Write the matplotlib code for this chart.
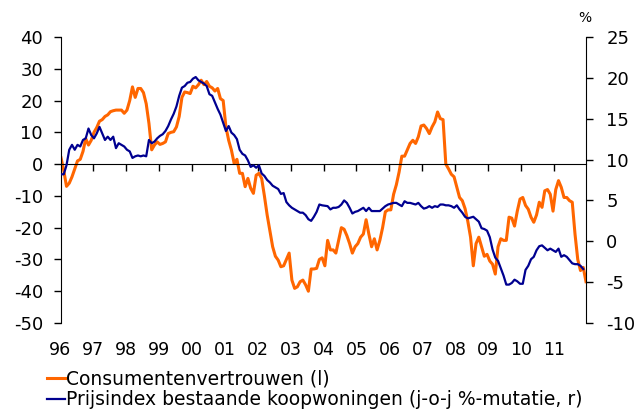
import numpy as np
import matplotlib
matplotlib.use("Agg")
import matplotlib.pyplot as plt

# consumentenvertrouwen, maandelijks jan 1996 - dec 2011 (linker as)
consumer_confidence = [
    2, -2, -7, -6, -4, -1.5, 1, 1.5, 4, 8, 6, 7.5,                          # 1996
    10, 11.5, 13.5, 14, 15, 15.5, 16.5, 16.8, 17, 17, 17, 16,               # 1997
    17, 20, 24.3, 21, 23.8, 23.8, 22.5, 19, 12.8, 4.5, 6, 7,                # 1998
    6.2, 6.5, 7, 9.6, 10, 10.2, 11.7, 15, 21, 22.7, 22.5, 22.2,             # 1999
    24.5, 24, 25, 26.4, 25, 26, 24.5, 24, 23, 23.8, 20.6, 20,               # 2000
    11.7, 7.5, 4.4, 0.2, 1.5, -2.9, -2.9, -7.1, -4.5, -7.6, -9.2, -3.5,     # 2001
    -2.9, -4.5, -10, -16, -21, -26, -29, -30.2, -32.3, -32, -30, -28,       # 2002
    -36.5, -39.1, -38.6, -37, -36.5, -38, -40, -33, -33, -32.8, -30, -29.5, # 2003
    -32, -24, -27, -27, -28, -24, -20, -20.5, -22.5, -25, -28, -26,         # 2004
    -25, -23, -22, -17.5, -22, -26, -23.5, -27, -24, -20, -15, -14.4,       # 2005
    -14.4, -9.5, -6.5, -2.5, 2.5, 2.5, 4.5, 6.5, 7.5, 6.5, 8.6, 12,         # 2006
    12.3, 11.2, 9.6, 11.7, 13.3, 16.4, 14.3, 14, 0, -1.5, -3.2, -4,         # 2007
    -7.3, -10.5, -11.5, -14, -18, -23, -32, -25, -23, -26, -29, -28.4,      # 2008
    -30.5, -31.5, -34.6, -26, -23.5, -24, -24, -16.7, -17, -19.5, -14.8, -11,  # 2009
    -10.5, -13, -14.2, -16.7, -18.3, -16, -12, -13.6, -8.4, -8, -9.5, -14.8,   # 2010
    -8, -5.2, -7.3, -10.5, -10.5, -11.5, -12, -22, -30, -33.5, -32.5, -37,     # 2011
]

# prijsindex bestaande koopwoningen, j-o-j %, jan 1996 - nov 2011 (rechter as)
house_price_index = [
    8.2, 8.2, 9.3, 11.2, 11.8, 11.2, 11.8, 11.6, 12.4, 12.6, 13.8, 13,      # 1996
    12.6, 13.2, 14, 13.2, 12.4, 12.8, 12.4, 12.8, 11.4, 12, 11.8, 11.6,     # 1997
    11.2, 11, 10.2, 10.4, 10.5, 10.4, 10.5, 10.4, 12.4, 12, 12.2, 12.6,     # 1998
    12.9, 13.1, 13.5, 14.1, 14.9, 15.6, 16.5, 17.8, 18.8, 19, 19.4, 19.5,   # 1999
    19.9, 20.1, 19.7, 19.5, 19.3, 19, 18, 17.8, 17, 16.2, 15.5, 14.5,       # 2000
    13.5, 14.1, 13.3, 13, 12.5, 11.2, 10.7, 10.5, 9.9, 9.1, 9.3, 9,         # 2001
    9.3, 8.3, 8, 7.5, 7.2, 6.8, 6.6, 6.4, 5.8, 5.9, 4.8, 4.4,               # 2002
    4.1, 3.9, 3.7, 3.5, 3.5, 3.2, 2.7, 2.5, 3, 3.6, 4.5, 4.4,               # 2003
    4.35, 4.3, 3.9, 4.1, 4.1, 4.2, 4.5, 5.0, 4.7, 4.1, 3.4, 3.6,            # 2004
    3.7, 3.9, 4.1, 3.7, 4.1, 3.7, 3.7, 3.7, 3.7, 4.0, 4.3, 4.5,             # 2005
    4.6, 4.7, 4.7, 4.5, 4.3, 4.9, 4.7, 4.7, 4.6, 4.5, 4.7, 4.3,             # 2006
    4.0, 4.1, 4.3, 4.1, 4.3, 4.2, 4.5, 4.5, 4.4, 4.4, 4.3, 4.1,             # 2007
    4.4, 3.9, 3.5, 3.0, 2.8, 2.9, 3.0, 2.7, 2.4, 1.6, 1.5, 1.3,             # 2008
    0.5, -1.0, -2.0, -2.4, -3.3, -4.2, -5.3, -5.3, -5.1, -4.7, -4.9, -5.2,  # 2009
    -5.2, -3.5, -3.0, -2.2, -1.9, -1.1, -0.6, -0.5, -0.8, -1.1, -0.9, -1.1, # 2010
    -1.3, -0.9, -1.9, -1.7, -1.9, -2.3, -2.7, -2.8, -2.8, -3.0, -3.4,       # 2011
]

year_labels = ["96", "97", "98", "99", "00", "01", "02", "03",
               "04", "05", "06", "07", "08", "09", "10", "11"]

orange = "#FF6600"
navy = "#000090"

plt.rcParams["font.family"] = "DejaVu Sans"
plt.rcParams["axes.unicode_minus"] = False

fig = plt.figure(figsize=(6.37, 4.11), dpi=100)
ax = fig.add_axes([61 / 637, 1 - 323 / 411, 525 / 637, 286 / 411])

ax.plot(np.arange(len(consumer_confidence)), consumer_confidence,
        color=orange, lw=2.2, label="Consumentenvertrouwen (l)")
ax.set_xlim(0, len(consumer_confidence) - 1)
ax.set_ylim(-50, 40)
ax.set_yticks(range(-50, 41, 10))

ax.spines["top"].set_visible(False)
ax.spines["right"].set_visible(False)
ax.spines["bottom"].set_position(("data", 0))
ax.spines["bottom"].set_zorder(5)

n_years = len(year_labels)
ax.set_xticks([12 * k - 0.5 for k in range(1, n_years)])
ax.tick_params(axis="x", direction="out", length=5, width=1, labelbottom=False)
ax.tick_params(axis="y", direction="out", length=5, width=1, labelsize=13, pad=8)

for k, lab in enumerate(year_labels):
    ax.text(12 * k - 0.5, -0.096, lab, transform=ax.get_xaxis_transform(),
            ha="center", va="center", fontsize=12.5)

ax2 = ax.twinx()
ax2.plot(np.arange(len(house_price_index)), house_price_index,
         color=navy, lw=1.6,
         label="Prijsindex bestaande koopwoningen (j-o-j %-mutatie, r)")
ax2.set_ylim(-10, 25)
ax2.set_yticks(range(-10, 26, 5))
for s in ["top", "bottom", "left"]:
    ax2.spines[s].set_visible(False)
ax2.tick_params(axis="y", direction="out", length=5, width=1, labelsize=13, pad=9.5)

fig.text(585 / 637, 1 - 18 / 411, "%", ha="center", va="center", fontsize=10)

h1, l1 = ax.get_legend_handles_labels()
h2, l2 = ax2.get_legend_handles_labels()
fig.legend(h1 + h2, l1 + l2, loc="upper left",
           bbox_to_anchor=(46.5 / 637, 1 - 369.5 / 411), frameon=False,
           fontsize=13.5, handlelength=0.98, handletextpad=0.08,
           borderpad=0, borderaxespad=0, labelspacing=0.1)

fig.savefig("out.png", dpi=100)
